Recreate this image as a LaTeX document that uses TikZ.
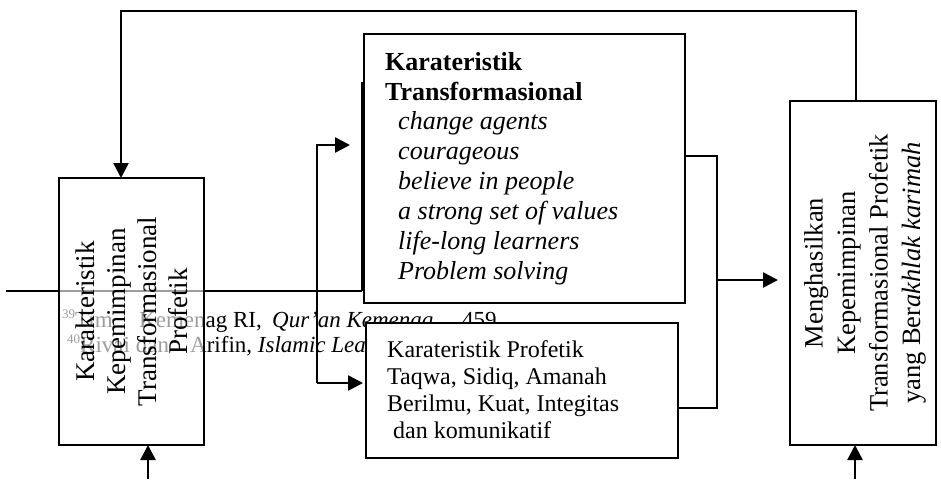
\documentclass[tikz,border=0pt]{standalone}
\usepackage{fontspec}
\setmainfont{Liberation Serif}
\usetikzlibrary{arrows.meta}
\begin{document}
\begin{tikzpicture}[x=1pt,y=-1pt,
  box/.style={draw, line width=2.8pt, inner sep=0pt, outer sep=0pt},
  conn/.style={line width=2.5pt},
  thinconn/.style={line width=1.8pt},
  tip/.style={-{Triangle[length=15pt,width=15pt]}},
  tb/.style={inner sep=0pt, anchor=base west, font=\fontsize{26}{30}\selectfont},
  bb/.style={inner sep=0pt, anchor=base west, font=\fontsize{24}{27}\selectfont},
  fn/.style={inner sep=0pt, anchor=base west, font=\fontsize{23}{25}\selectfont},
  rot/.style={inner sep=0pt, rotate=90, align=center}
]
\useasboundingbox (0,0) rectangle (941,479);

% footnote text (lies behind the boxes)
\node[fn] (f1a) at (62,327) {\raisebox{9pt}{\fontsize{13}{13}\selectfont 39}Tim};
\node[fn] (f1b) at (139,327) {Kemenag RI,};
\node[fn] (f1c) at (272,327) {\textit{Qur'an Kemenag}..., 459};
\node[fn] (f2a) at (67,352) {\raisebox{9pt}{\fontsize{13}{13}\selectfont 40}Rivai dan};
\node[fn] (f2b) at (190,352) {Arifin, \textit{Islamic Lea}};

% horizontal line
\coordinate (busL) at (6,291);
\coordinate (busR) at (362,291);
\coordinate (vtop) at (362,82);
\draw[conn] (busL) -- (busR);

% left box (semi-transparent fill)
\node[box, fill=white, fill opacity=0.62, minimum width=145pt, minimum height=267pt] (L) at (131.5,311.5) {};
\node[rot, font=\fontsize{27}{31}\selectfont] (Ltxt) at (131.5,311.5)
  {Karakteristik\\Kepemimpinan\\Transformasional\\Profetik};

% top box
\node[box, fill=white, minimum width=321pt, minimum height=269pt] (T) at (524.5,168.5) {};
\node[tb] (t1) at (385,70.5) {\textbf{Karateristik}};
\node[tb] (t2) at (385,100) {\textbf{Transformasional}};
\node[tb] (t3) at (398,129.5) {\textit{change agents}};
\node[tb] (t4) at (398,159.5) {\textit{courageous}};
\node[tb] (t5) at (398,189.5) {\textit{believe in people}};
\node[tb] (t6) at (398,219.5) {\textit{a strong set of values}};
\node[tb] (t7) at (398,249.5) {\textit{life-long learners}};
\node[tb] (t8) at (398,279.5) {\textit{Problem solving}};

\draw[thinconn] (busR) -- (vtop);

% bottom box
\node[box, fill=white, minimum width=312pt, minimum height=135pt] (B) at (522,390.5) {};
\node[bb] (b1) at (387,357) {Karateristik Profetik};
\node[bb] (b2) at (387,384) {Taqwa, Sidiq, Amanah};
\node[bb] (b3) at (387,411) {Berilmu, Kuat, Integitas};
\node[bb] (b4) at (393,438) {dan komunikatif};

% right box
\node[box, fill=white, minimum width=146pt, minimum height=344pt] (R) at (863,273) {};
\node[rot, font=\fontsize{26.5}{32.5}\selectfont] (Rtxt) at (865,273)
  {Menghasilkan\\Kepemimpinan\\Transformasional Profetik\\yang Ber\textit{akhlak karimah}};

% top feedback loop
\coordinate (c1) at (856,11);
\coordinate (c2) at (121,11);
\draw[conn, tip] (R.north -| c1) -- (c1) -- (c2) -- (L.north -| c2);

% bottom input arrows
\coordinate (in1) at (148,479);
\coordinate (in2) at (855,479);
\draw[conn, tip] (in1) -- (L.south -| in1);
\draw[conn, tip] (in2) -- (R.south -| in2);

% split arrow into top and bottom boxes
\coordinate (sb) at (317,383);
\coordinate (st) at (317,145);
\coordinate (stip) at (350,145);
\draw[conn, tip] (sb) -- (st) -- (stip);
\draw[conn, tip] (sb) -- ([xshift=-3pt]B.west |- sb);

% joining lines to the right box
\coordinate (j1) at (717,156);
\coordinate (j2) at (717,408);
\coordinate (jm) at (717,280);
\coordinate (jtip) at (778,280);
\draw[thinconn] (T.east |- j1) -- (j1) -- (j2) -- (B.east |- j2);
\draw[conn, tip] (jm) -- (jtip);
\end{tikzpicture}
\end{document}
